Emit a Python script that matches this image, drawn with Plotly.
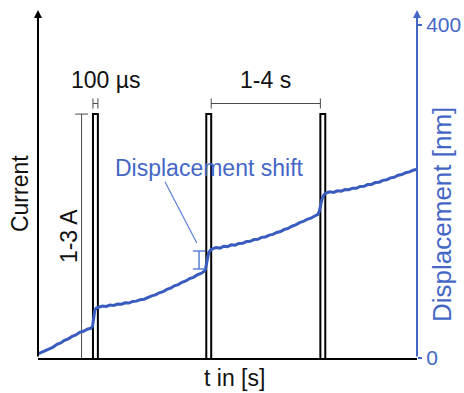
import plotly.graph_objects as go

# Displacement trace (nm) versus time (s)
t_disp = [0.0, 0.1, 0.2, 0.3, 0.4, 0.5, 0.6, 0.7, 0.8, 0.9, 1.0, 1.1, 1.2, 1.3, 1.4,
          1.44, 1.47, 1.50, 1.54, 1.58,
          1.6, 1.7, 1.8, 1.9, 2.0, 2.1, 2.2, 2.3, 2.4, 2.5, 2.6, 2.7, 2.8, 2.9, 3.0,
          3.1, 3.2, 3.3, 3.4, 3.5, 3.6, 3.7, 3.8, 3.9, 4.0, 4.1, 4.2, 4.3, 4.38,
          4.42, 4.46, 4.50, 4.55, 4.60,
          4.7, 4.8, 4.9, 5.0, 5.1, 5.2, 5.3, 5.4, 5.5, 5.6, 5.7, 5.8, 5.9, 6.0,
          6.1, 6.2, 6.3, 6.4, 6.5, 6.6, 6.7, 6.8, 6.9, 7.0, 7.1, 7.2, 7.3, 7.38,
          7.42, 7.46, 7.50, 7.55, 7.60,
          7.7, 7.8, 7.9, 8.0, 8.1, 8.2, 8.3, 8.4, 8.5, 8.6, 8.7, 8.8, 8.9, 9.0,
          9.1, 9.2, 9.3, 9.4, 9.5, 9.6, 9.7, 9.8, 9.9, 10.0]
displacement_nm = [5.0, 7.2, 8.6, 11.3, 13.1, 16.4, 18.0, 21.2, 23.0, 25.9, 27.6, 30.8, 32.1, 34.6, 35.9,
                   38.5, 48.0, 57.5, 60.0, 60.8,
                   61.2, 62.4, 61.9, 63.5, 63.1, 64.8, 64.6, 66.3, 66.0, 67.9, 68.3, 70.1, 70.6, 72.9, 74.6,
                   75.8, 78.3, 79.6, 82.4, 84.0, 86.7, 88.2, 90.9, 92.5, 95.4, 96.9, 99.8, 101.6, 103.9,
                   107.0, 117.0, 126.0, 129.5, 131.0,
                   132.6, 132.0, 134.1, 133.8, 135.9, 135.5, 137.6, 137.8, 139.9, 140.1, 142.3, 142.6, 144.9, 145.4,
                   147.6, 148.5, 150.8, 151.9, 154.4, 155.6, 158.3, 159.9, 162.6, 164.0, 166.6, 167.9, 170.6, 172.3,
                   176.0, 184.0, 192.0, 196.5, 198.0,
                   199.6, 198.9, 200.8, 200.3, 202.3, 202.1, 204.0, 203.9, 206.0, 206.2, 208.3, 208.5, 210.7, 211.2,
                   213.4, 214.0, 216.4, 217.1, 219.5, 220.3, 222.6, 223.5, 225.6, 226.8]

# Current pulses: start times (s), drawn width (s), amplitude (A)
pulse_start = [1.45, 4.44, 7.45]
pulse_width = 0.13
pulse_amp = 3.0

# Displacement shift marker (nm)
shift_t = 4.25
shift_low, shift_high = 107.0, 128.5

# Axis extents
t_max = 10.0
current_max = 4.28
disp_max = 418.0
disp_ticks = [0, 400]

BLUE = "#3A5CBE"
LIGHT_BLUE = "#5A80D8"
AXIS_BLUE = "#4467C6"
GRAY = "#4a4a4a"
FONT = "Arial, Liberation Sans, sans-serif"
TXT = dict(size=23, color="#111", family=FONT)

fig = go.Figure()

# displacement curve
fig.add_trace(go.Scatter(x=t_disp, y=displacement_nm, yaxis="y2", mode="lines",
                         line=dict(color=BLUE, width=3), hoverinfo="skip"))

# pulses as open rectangles
px, py = [], []
for s in pulse_start:
    px += [s, s, s + pulse_width, s + pulse_width, None]
    py += [0, pulse_amp, pulse_amp, 0, None]
fig.add_trace(go.Scatter(x=px, y=py, mode="lines", line=dict(color="black", width=2),
                         hoverinfo="skip"))

# amplitude bracket "1-3 A"
amp_x = 1.15
cap = 0.17
fig.add_trace(go.Scatter(x=[amp_x, amp_x, None, amp_x - cap, amp_x + cap],
                         y=[0, pulse_amp, None, pulse_amp, pulse_amp],
                         mode="lines", line=dict(color=GRAY, width=1), hoverinfo="skip"))

# width bracket "100 µs" and spacing bracket "1-4 s"
by = 3.13
dy = 0.062
w0, w1 = pulse_start[0], pulse_start[0] + pulse_width
s0, s1 = pulse_start[1] + pulse_width, pulse_start[2]
bx, byy = [], []
for a, b in [(w0, w1), (s0, s1)]:
    bx += [a, b, None, a, a, None, b, b, None]
    byy += [by, by, None, by - dy, by + dy, None, by - dy, by + dy, None]
fig.add_trace(go.Scatter(x=bx, y=byy, mode="lines", line=dict(color=GRAY, width=1),
                         hoverinfo="skip"))

# displacement shift I-bar
fig.add_trace(go.Scatter(x=[shift_t], y=[(shift_low + shift_high) / 2], yaxis="y2",
                         mode="markers", marker=dict(size=1, color="rgba(0,0,0,0)"),
                         error_y=dict(type="data", array=[(shift_high - shift_low) / 2],
                                      color=LIGHT_BLUE, thickness=1.5, width=6),
                         hoverinfo="skip"))
# pointer from label to I-bar
fig.add_trace(go.Scatter(x=[3.35, 4.19], y=[211.8, 138.1], yaxis="y2", mode="lines",
                         line=dict(color=LIGHT_BLUE, width=1.2), hoverinfo="skip"))

C = dict(xanchor="center", yanchor="middle", showarrow=False)
ann = []
# axis arrows
ann.append(dict(x=0, y=current_max, xref="x", yref="y", ax=0, ay=0, axref="x", ayref="y",
                showarrow=True, arrowhead=2, arrowsize=0.8, arrowwidth=2, arrowcolor="black",
                standoff=0, text=""))
ann.append(dict(x=t_max, y=disp_max, xref="x", yref="y2", ax=t_max, ay=0, axref="x", ayref="y2",
                showarrow=True, arrowhead=2, arrowsize=0.8, arrowwidth=2, arrowcolor=AXIS_BLUE,
                standoff=0, text=""))
# labels
ann.append(dict(x=-0.0475, y=0.474, xref="paper", yref="paper", text="Current", textangle=-90,
                font=TXT, **C))
ann.append(dict(x=0.82, y=1.5, xref="x", yref="y", text="1-3 A", textangle=-90, font=TXT, **C))
ann.append(dict(x=0.518, y=-0.0575, xref="paper", yref="paper", text="t in [s]", font=TXT, **C))
ann.append(dict(x=1.79, y=3.42, xref="x", yref="y", text="100 µs", font=TXT, **C))
ann.append(dict(x=(s0 + s1) / 2, y=3.42, xref="x", yref="y", text="1-4 s", font=TXT, **C))
ann.append(dict(x=4.53, y=228.0, xref="x", yref="y2", text="Displacement shift",
                font=dict(size=23, color=AXIS_BLUE, family=FONT), **C))
ann.append(dict(x=1.066, y=0.411, xref="paper", yref="paper", text="Displacement [nm]",
                textangle=-90, font=dict(size=26, color=AXIS_BLUE, family=FONT), **C))

fig.update_layout(
    width=464, height=393,
    margin=dict(l=38, r=47, t=10, b=35, pad=0, autoexpand=False),
    paper_bgcolor="white", plot_bgcolor="white",
    showlegend=False,
    font=dict(family=FONT),
    xaxis=dict(range=[0, t_max], showgrid=False, zeroline=False, showticklabels=False,
               ticks="", showline=True, linecolor="black", linewidth=2, automargin=False),
    yaxis=dict(range=[0, current_max], showgrid=False, zeroline=False, showticklabels=False,
               ticks="", showline=False, automargin=False),
    yaxis2=dict(range=[0, disp_max], overlaying="y", side="right", showgrid=False,
                zeroline=False, showline=False, tickvals=disp_ticks, ticks="outside",
                ticklen=4, tickwidth=1.5, tickcolor=AXIS_BLUE, automargin=False,
                tickfont=dict(size=21, color=AXIS_BLUE, family=FONT)),
    annotations=ann,
)

fig.write_html("out.html")
